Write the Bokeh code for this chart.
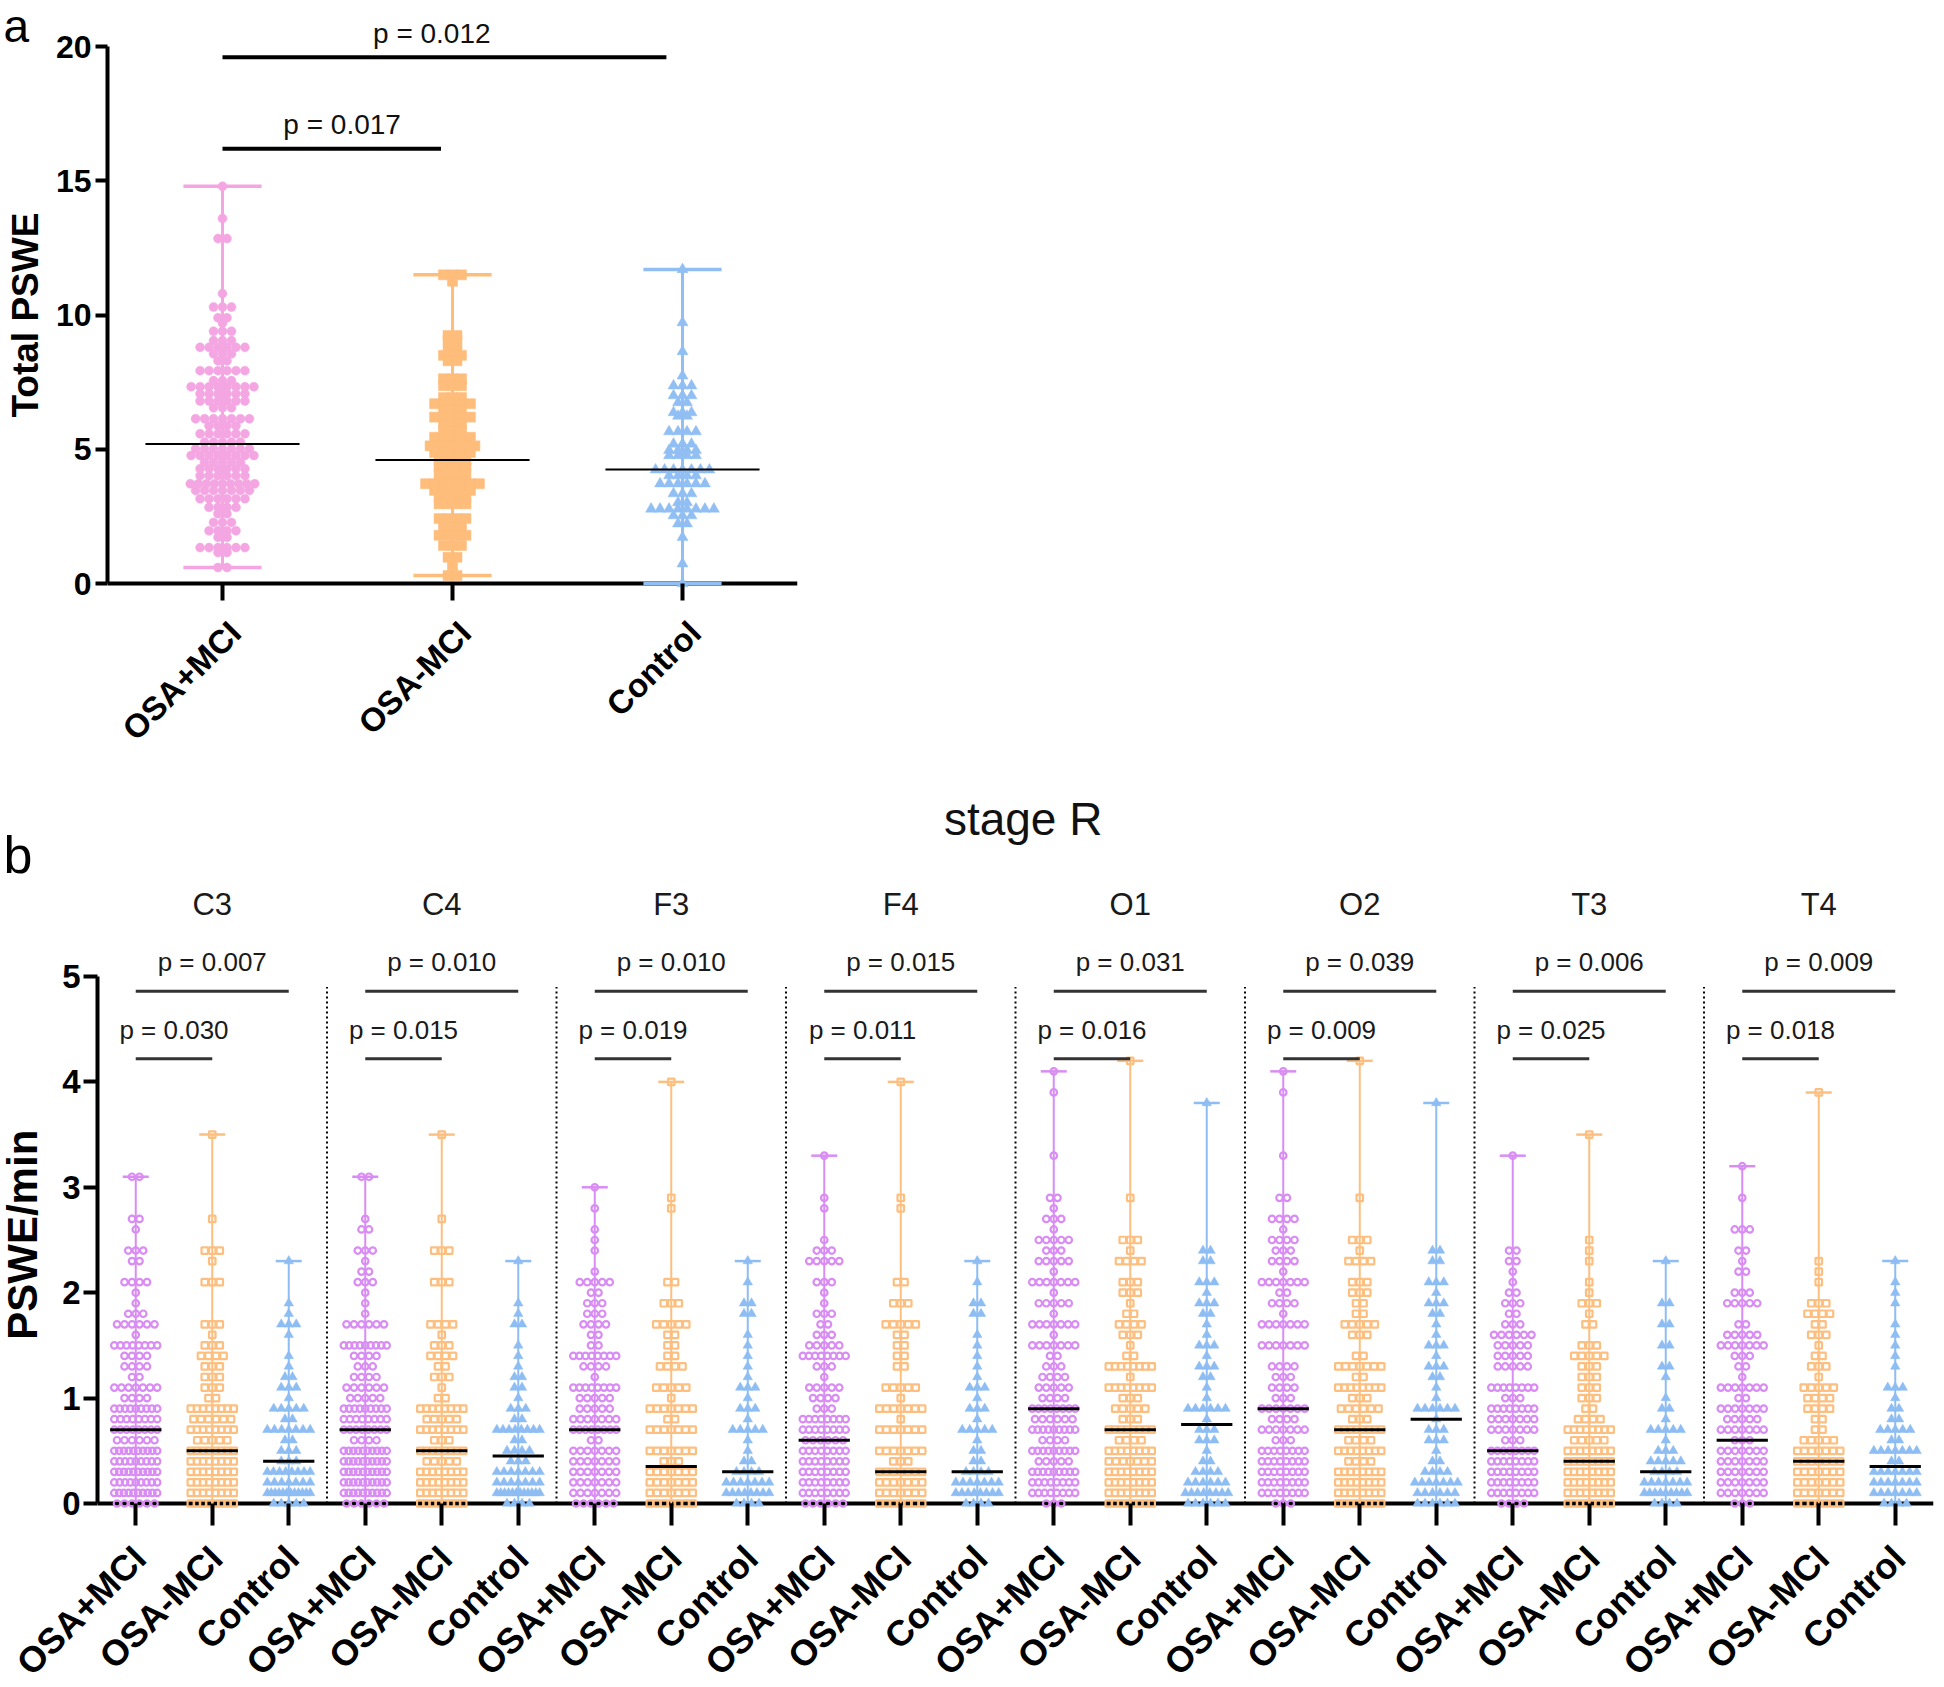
import math
from bokeh.plotting import figure
from bokeh.models import Range1d, FixedTicker, Label
from bokeh.embed import file_html
from bokeh.resources import INLINE
from bokeh.core.properties import value

FONT = "Liberation Sans"

# ---------------- Panel a data ----------------
groups = ["OSA+MCI", "OSA-MCI", "Control"]

a_mci_levels = [14.8, 13.6, 12.85, 10.8, 10.3, 9.9, 9.7, 9.4, 9.05, 8.8, 8.56, 8.3, 7.93, 7.56, 7.33,
                7.07, 6.8, 6.55, 6.14, 5.88, 5.58, 5.27, 5.02, 4.77, 4.52, 4.28, 4.02, 3.72, 3.47,
                3.16, 2.84, 2.6, 2.28, 1.97, 1.72, 1.34, 1.16, 0.6]
a_mci_counts = [1, 1, 2, 1, 3, 2, 1, 3, 3, 6, 3, 2, 6, 3, 8, 6, 6, 3, 7, 4, 6, 5, 7, 8, 5, 6, 6, 9, 7,
                6, 4, 2, 3, 4, 2, 6, 2, 2]

a_nomci_levels = [11.5, 11.26, 9.24, 9.05, 8.7, 8.5, 8.3, 7.63, 7.37, 6.93, 6.7, 6.45, 6.2, 5.95, 5.7,
                  5.45, 5.13, 4.88, 4.58, 4.33, 4.08, 3.72, 3.47, 3.22, 2.97, 2.42, 2.1, 1.8, 1.42,
                  0.98, 0.67, 0.3]
a_nomci_counts = [3, 1, 2, 2, 2, 3, 2, 3, 3, 3, 5, 3, 5, 3, 3, 5, 6, 5, 4, 4, 4, 7, 5, 4, 4, 4, 3, 4,
                  3, 2, 1, 2]

a_ctrl_levels = [11.7, 9.72, 8.64, 7.74, 7.37, 7.0, 6.74, 6.37, 6.24, 5.66, 5.2, 4.96, 4.77, 4.24,
                 4.02, 3.72, 3.35, 3.02, 2.78, 2.53, 2.23, 1.72, 0.74, 0.0]
a_ctrl_counts = [1, 1, 1, 1, 3, 3, 2, 3, 2, 4, 3, 4, 4, 7, 4, 6, 3, 2, 8, 3, 2, 1, 1, 1]

a_medians = [5.2, 4.6, 4.25]
a_p_labels = ["p = 0.012", "p = 0.017"]

# ---------------- Panel b data (counts per 0.1 step, from 0.0 upward) ----------------
channels = ["C3", "C4", "F3", "F4", "O1", "O2", "T3", "T4"]

c3_mci = [6, 10, 9, 10, 9, 10, 6, 8, 8, 9, 4, 7, 2, 4, 4, 8, 1, 6, 3, 1, 1, 4, 0, 2, 3, 0, 1, 2, 0, 0, 0, 2]
c3_nomci = [8, 8, 8, 8, 8, 8, 5, 8, 6, 8, 2, 3, 3, 3, 4, 3, 1, 3, 0, 0, 0, 3, 0, 1, 3, 0, 0, 1, 0, 0, 0, 0, 0, 0, 0, 1]
c3_ctrl = [5, 12, 7, 8, 3, 3, 2, 7, 2, 5, 1, 3, 2, 1, 1, 0, 1, 3, 1, 1, 0, 0, 0, 1]

c4_mci = [6, 10, 10, 10, 10, 10, 4, 8, 8, 9, 5, 6, 4, 3, 4, 9, 0, 6, 1, 1, 1, 3, 2, 1, 3, 0, 2, 1, 0, 0, 0, 2]
c4_nomci = [8, 8, 8, 8, 5, 8, 3, 8, 5, 8, 2, 1, 3, 2, 4, 3, 1, 4, 0, 0, 0, 3, 0, 0, 3, 0, 0, 1, 0, 0, 0, 0, 0, 0, 0, 1]
c4_ctrl = [4, 12, 7, 7, 3, 4, 2, 8, 2, 3, 1, 2, 2, 1, 1, 1, 0, 2, 1, 1, 0, 0, 0, 1]

f3_mci = [6, 7, 7, 7, 7, 7, 2, 8, 7, 5, 5, 8, 1, 4, 8, 2, 2, 4, 3, 3, 2, 5, 1, 0, 1, 1, 1, 0, 1, 0, 1]
f3_nomci = [7, 7, 7, 7, 3, 7, 0, 7, 2, 7, 1, 5, 0, 4, 2, 2, 2, 5, 0, 3, 0, 2, 0, 0, 0, 0, 0, 0, 1, 1,
            0, 0, 0, 0, 0, 0, 0, 0, 0, 0, 1]
f3_ctrl = [4, 8, 7, 4, 2, 1, 1, 5, 1, 3, 1, 3, 1, 1, 1, 1, 1, 0, 2, 2, 0, 1, 0, 1]

f4_mci = [6, 8, 8, 8, 8, 8, 6, 8, 8, 3, 4, 5, 1, 3, 8, 5, 3, 2, 3, 1, 1, 3, 0, 5, 3, 1, 0, 0, 1, 1, 0, 0, 0, 1]
f4_nomci = [7, 7, 7, 7, 3, 7, 0, 7, 1, 7, 1, 5, 0, 2, 2, 2, 2, 5, 0, 3, 0, 2, 0, 0, 0, 0, 0, 0, 1, 1,
            0, 0, 0, 0, 0, 0, 0, 0, 0, 0, 1]
f4_ctrl = [4, 8, 7, 4, 2, 2, 1, 5, 1, 3, 1, 3, 1, 1, 1, 1, 1, 0, 2, 2, 0, 1, 0, 1]

o1_mci = [3, 8, 8, 9, 5, 9, 4, 9, 6, 8, 4, 5, 4, 3, 2, 7, 1, 7, 1, 5, 1, 7, 1, 5, 3, 5, 1, 3, 1, 2,
          0, 0, 0, 1, 0, 0, 0, 0, 0, 1, 0, 1]
o1_nomci = [8, 8, 8, 8, 7, 8, 4, 8, 3, 5, 3, 8, 1, 8, 2, 1, 3, 4, 2, 1, 3, 3, 0, 4, 1, 3, 0, 0, 0, 1,
            0, 0, 0, 0, 0, 0, 0, 0, 0, 0, 0, 0, 1]
o1_ctrl = [6, 8, 6, 4, 2, 1, 3, 3, 1, 6, 1, 1, 2, 3, 1, 3, 1, 1, 2, 3, 1, 3, 0, 2, 2, 0, 0, 0, 0, 0,
           0, 0, 0, 0, 0, 0, 0, 0, 1]

o2_mci = [3, 8, 8, 8, 8, 8, 3, 7, 4, 7, 3, 4, 3, 4, 0, 7, 0, 7, 1, 4, 2, 7, 1, 4, 3, 4, 1, 4, 0, 2,
          0, 0, 0, 1, 0, 0, 0, 0, 0, 1, 0, 1]
o2_nomci = [8, 8, 8, 8, 4, 8, 4, 8, 3, 6, 3, 8, 2, 7, 2, 0, 3, 5, 2, 2, 3, 3, 0, 4, 1, 3, 0, 0, 0, 1,
            0, 0, 0, 0, 0, 0, 0, 0, 0, 0, 0, 0, 1]
o2_ctrl = [6, 6, 7, 4, 2, 1, 3, 3, 1, 6, 1, 1, 2, 3, 1, 3, 1, 1, 2, 3, 1, 3, 0, 2, 2, 0, 0, 0, 0, 0,
           0, 0, 0, 0, 0, 0, 0, 0, 1]

t3_mci = [4, 8, 8, 8, 8, 8, 3, 7, 7, 8, 3, 8, 0, 5, 5, 5, 6, 3, 2, 3, 2, 1, 1, 2, 2, 0, 0, 0, 0, 0, 0, 0, 0, 1]
t3_nomci = [8, 8, 8, 8, 8, 8, 5, 8, 4, 2, 3, 3, 3, 3, 5, 3, 0, 2, 1, 3, 1, 1, 0, 1, 1, 1, 0, 0, 0, 0,
            0, 0, 0, 0, 0, 1]
t3_ctrl = [4, 9, 7, 4, 5, 3, 1, 5, 1, 2, 1, 0, 1, 2, 0, 2, 0, 2, 0, 2, 0, 0, 0, 1]

t4_mci = [3, 7, 7, 7, 7, 7, 3, 7, 5, 7, 2, 7, 1, 2, 3, 7, 5, 2, 0, 5, 3, 0, 2, 1, 2, 0, 3, 0, 0, 1, 0, 0, 1]
t4_nomci = [7, 7, 7, 7, 7, 7, 5, 2, 2, 4, 4, 5, 1, 3, 2, 1, 3, 2, 4, 3, 0, 1, 1, 1, 0, 0, 0, 0, 0, 0,
            0, 0, 0, 0, 0, 0, 0, 0, 0, 1]
t4_ctrl = [4, 7, 7, 7, 2, 7, 2, 5, 2, 2, 1, 3, 0, 1, 1, 1, 1, 1, 0, 1, 1, 1, 0, 1]

b_medians_mci = [0.7, 0.7, 0.7, 0.6, 0.9, 0.9, 0.5, 0.6]
b_medians_nomci = [0.5, 0.5, 0.35, 0.3, 0.7, 0.7, 0.4, 0.4]
b_medians_ctrl = [0.4, 0.45, 0.3, 0.3, 0.75, 0.8, 0.3, 0.35]
p_upper = ["0.007", "0.010", "0.010", "0.015", "0.031", "0.039", "0.006", "0.009"]
p_lower = ["0.030", "0.015", "0.019", "0.011", "0.016", "0.009", "0.025", "0.018"]

# ---------------- styling constants ----------------
A_COLORS = ["#F4A6E2", "#FEBD7B", "#91BEF3"]
B_COLORS = ["#D98CF3", "#FDBF80", "#8DBDF2"]


def base_style(p):
    p.xgrid.visible = False
    p.ygrid.visible = False
    p.outline_line_color = None
    p.background_fill_color = "white"
    p.border_fill_color = "white"


def style_axis(ax, label_size, tick_out, tick_in=0):
    ax.axis_line_width = 4
    ax.axis_line_color = "black"
    ax.major_tick_line_width = 4
    ax.major_tick_line_color = "black"
    ax.major_tick_out = tick_out
    ax.major_tick_in = tick_in
    ax.minor_tick_line_color = None
    ax.major_label_text_font = FONT
    ax.major_label_text_font_style = "bold"
    ax.major_label_text_font_size = label_size
    ax.major_label_text_color = "black"


def rotated_tick_labels(p, ticks, names, dx, y, size):
    # category names drawn at the axis ticks, rotated 45 degrees (text ends at the tick)
    p.text(x=[t + dx for t in ticks], y=[y] * len(ticks), text=names, angle=math.pi / 4,
           text_font=value(FONT), text_font_size=size, text_font_style="bold",
           text_align="right", text_baseline="middle", text_color="black", level="overlay")


# ================= Panel a =================
pa = figure(frame_width=690, frame_height=577, x_range=Range1d(-0.5, 2.5), y_range=Range1d(-0.22, 21.27),
            output_backend="svg", toolbar_location=None,
            min_border_left=107, min_border_right=33, min_border_top=12, min_border_bottom=185)
base_style(pa)

ya = pa.yaxis[0]
style_axis(ya, "32px", 12)
ya.ticker = FixedTicker(ticks=[0, 5, 10, 15, 20])
ya.bounds = (0, 20)
ya.major_label_standoff = 4

xa = pa.xaxis[0]
style_axis(xa, "12px", 11, 6)
xa.axis_line_color = None
a_ticks = [0, 1, 2]
xa.ticker = FixedTicker(ticks=a_ticks)
xa.major_label_overrides = {t: "" for t in a_ticks}
rotated_tick_labels(pa, a_ticks, groups, 0.055, -1.62, "33px")

# x axis baseline at y = 0
pa.segment(x0=[-0.5], y0=[0], x1=[2.5], y1=[0], line_color="black", line_width=4)

a_sets = [(a_mci_levels, a_mci_counts, "circle", 9),
          (a_nomci_levels, a_nomci_counts, "square", 10),
          (a_ctrl_levels, a_ctrl_counts, "triangle", 11)]

for gi, (levels, counts, marker, size) in enumerate(a_sets):
    col = A_COLORS[gi]
    lo, hi = min(levels), max(levels)
    pa.segment(x0=[gi], y0=[lo], x1=[gi], y1=[hi], line_color=col, line_width=3)
    pa.segment(x0=[gi - 0.17, gi - 0.17], y0=[hi, lo], x1=[gi + 0.17, gi + 0.17], y1=[hi, lo],
               line_color=col, line_width=3.5)
    xs, ys = [], []
    for lv, n in zip(levels, counts):
        sp = min(0.039, 0.28 / (n - 1)) if n > 1 else 0.0
        for k in range(n):
            xs.append(gi + (k - (n - 1) / 2) * sp)
            ys.append(lv)
    pa.scatter(xs, ys, marker=marker, size=size, fill_color=col, line_color=col, line_width=0.5)
    pa.segment(x0=[gi - 0.335], y0=[a_medians[gi]], x1=[gi + 0.335], y1=[a_medians[gi]],
               line_color="black", line_width=2)

# significance bars
pa.segment(x0=[0, 0], y0=[19.6, 16.2], x1=[1.93, 0.95], y1=[19.6, 16.2], line_color="black", line_width=4)
pa.add_layout(Label(x=0.91, y=20.5, text=a_p_labels[0], text_font=FONT, text_font_size="28px",
                    text_align="center", text_baseline="middle", text_color="#111111"))
pa.add_layout(Label(x=0.52, y=17.1, text=a_p_labels[1], text_font=FONT, text_font_size="28px",
                    text_align="center", text_baseline="middle", text_color="#111111"))
pa.text(x=[-0.952], y=[20.75], text=["a"], text_font=value(FONT), text_font_size="46px",
        text_align="left", text_baseline="middle", text_color="black", level="overlay")
pa.text(x=[-0.857], y=[10.0], text=["Total PSWE"], angle=math.pi / 2, text_font=value(FONT),
        text_font_size="37px", text_font_style="bold", text_align="center", text_baseline="middle",
        text_color="black", level="overlay")

# ================= Panel b =================
pb = figure(frame_width=1836, frame_height=736, x_range=Range1d(-0.5, 23.5),
            y_range=Range1d(-0.0665, 6.9165),
            output_backend="svg", toolbar_location=None,
            min_border_left=97, min_border_right=1, min_border_top=0, min_border_bottom=177)
base_style(pb)

yb = pb.yaxis[0]
style_axis(yb, "33px", 14)
yb.ticker = FixedTicker(ticks=[0, 1, 2, 3, 4, 5])
yb.bounds = (0, 5)
yb.major_label_standoff = 3

xb = pb.xaxis[0]
style_axis(xb, "12px", 15, 7)
xb.axis_line_color = None
b_ticks = list(range(24))
xb.ticker = FixedTicker(ticks=b_ticks)
xb.major_label_overrides = {t: "" for t in b_ticks}
rotated_tick_labels(pb, b_ticks, [groups[t % 3] for t in b_ticks], 0.05, -0.46, "36px")

# x axis baseline at y = 0
pb.segment(x0=[-0.5], y0=[0], x1=[23.5], y1=[0], line_color="black", line_width=4)

# dotted separators between channels
seps = [3 * k + 2.5 for k in range(7)]
pb.segment(x0=seps, y0=[0] * 7, x1=seps, y1=[4.9] * 7, line_color="black", line_width=2,
           line_dash="2 3")

b_data = [(c3_mci, c3_nomci, c3_ctrl), (c4_mci, c4_nomci, c4_ctrl), (f3_mci, f3_nomci, f3_ctrl),
          (f4_mci, f4_nomci, f4_ctrl), (o1_mci, o1_nomci, o1_ctrl), (o2_mci, o2_nomci, o2_ctrl),
          (t3_mci, t3_nomci, t3_ctrl), (t4_mci, t4_nomci, t4_ctrl)]
b_meds = list(zip(b_medians_mci, b_medians_nomci, b_medians_ctrl))
markers = ["circle", "square", "triangle"]

for ci, trio in enumerate(b_data):
    for gk, counts in enumerate(trio):
        g = 3 * ci + gk
        col = B_COLORS[gk]
        hi = round((len(counts) - 1) * 0.1, 1)
        pb.segment(x0=[g], y0=[0], x1=[g], y1=[hi], line_color=col, line_width=2)
        pb.segment(x0=[g - 0.17], y0=[hi], x1=[g + 0.17], y1=[hi], line_color=col, line_width=2.5)
        xs, ys = [], []
        for li, n in enumerate(counts):
            if n == 0:
                continue
            sp = min(0.098, 0.56 / (n - 1)) if n > 1 else 0.0
            for k in range(n):
                xs.append(g + (k - (n - 1) / 2) * sp)
                ys.append(round(li * 0.1, 1))
        if gk < 2:
            pb.scatter(xs, ys, marker=markers[gk], size=6.5, fill_color=None, line_color=col, line_width=2.2)
        else:
            pb.scatter(xs, ys, marker="triangle", size=9.5, fill_color=col, line_color=col, line_width=0.5)
        med = b_meds[ci][gk]
        pb.segment(x0=[g - 0.335], y0=[med], x1=[g + 0.335], y1=[med], line_color="black", line_width=3)

    base = 3 * ci
    pb.segment(x0=[base, base], y0=[4.86, 4.22], x1=[base + 2, base + 1], y1=[4.86, 4.22],
               line_color="#333333", line_width=3)
    pb.add_layout(Label(x=base + 1, y=5.14, text="p = " + p_upper[ci], text_font=FONT,
                        text_font_size="26px", text_align="center", text_baseline="middle",
                        text_color="#1a1a1a"))
    pb.add_layout(Label(x=base + 0.5, y=4.49, text="p = " + p_lower[ci], text_font=FONT,
                        text_font_size="26px", text_align="center", text_baseline="middle",
                        text_color="#1a1a1a"))
    pb.add_layout(Label(x=base + 1, y=5.68, text=channels[ci], text_font=FONT,
                        text_font_size="31px", text_align="center", text_baseline="middle",
                        text_color="#1a1a1a"))

pb.add_layout(Label(x=11.6, y=6.49, text="stage R", text_font=FONT, text_font_size="46px",
                    text_align="center", text_baseline="middle", text_color="#111111"))
pb.text(x=[-1.728], y=[6.15], text=["b"], text_font=value(FONT), text_font_size="52px",
        text_align="left", text_baseline="middle", text_color="black", level="overlay")
pb.text(x=[-1.48], y=[2.55], text=["PSWE/min"], angle=math.pi / 2, text_font=value(FONT),
        text_font_size="42px", text_font_style="bold", text_align="center", text_baseline="middle",
        text_color="black", level="overlay")

open("out.html", "w").write(file_html([pa, pb], INLINE))
